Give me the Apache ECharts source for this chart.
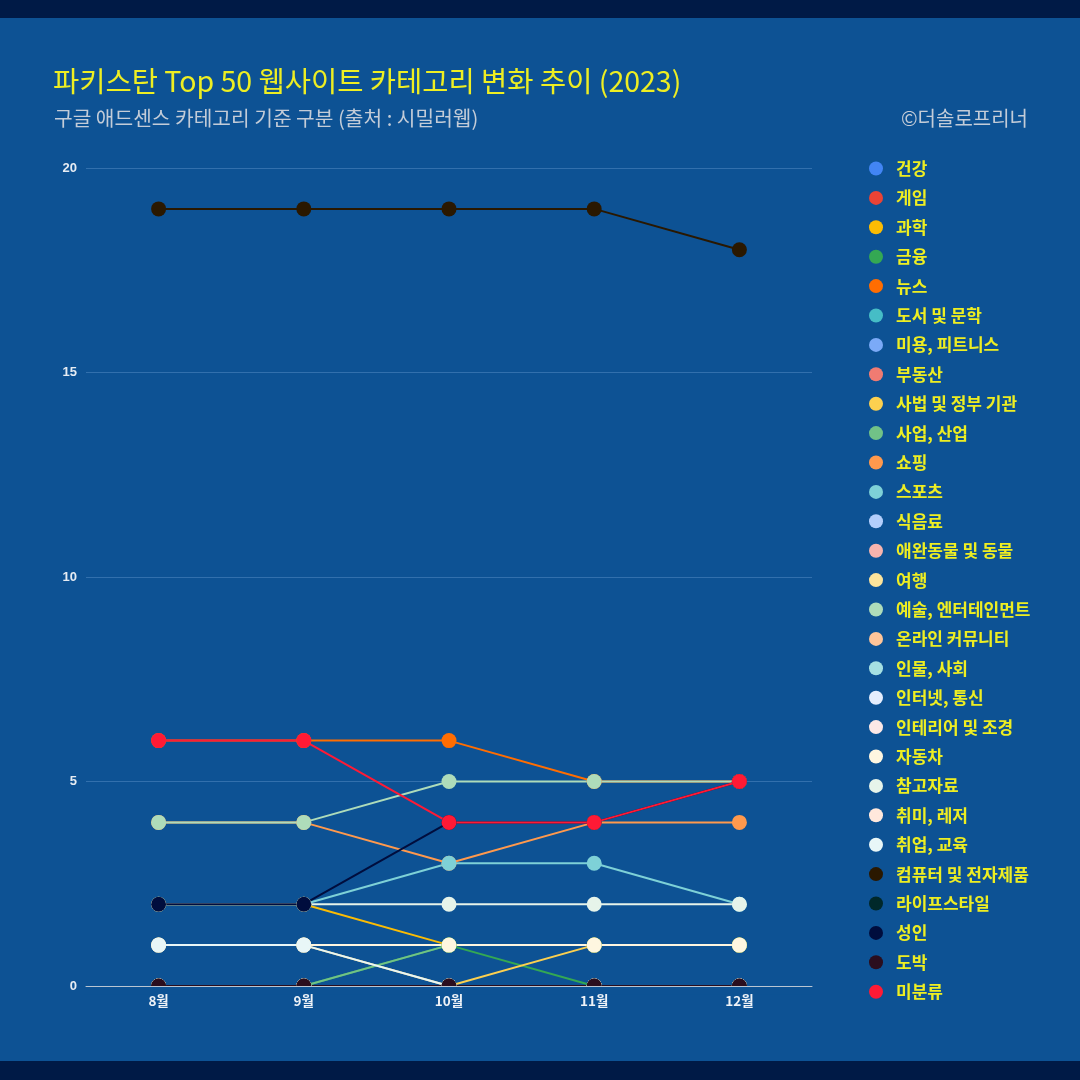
<!DOCTYPE html>
<html>
<head>
<meta charset="utf-8">
<script src="https://cdn.jsdelivr.net/npm/echarts@6/dist/echarts.min.js"></script>
<style>
html,body{margin:0;padding:0;background:#001a46;}
#wrap{position:absolute;left:0;top:0;width:1080px;height:1080px;background:#001a46;}
#chart{position:absolute;left:0;top:18px;width:1080px;height:1043px;background:#0d5294;}
</style>
</head>
<body>
<div id="wrap"><div id="chart"></div></div>
<script>
// ---- data ----
const months = ['8월', '9월', '10월', '11월', '12월'];
const categoryNames = ['건강','게임','과학','금융','뉴스','도서 및 문학','미용, 피트니스','부동산','사법 및 정부 기관','사업, 산업','쇼핑','스포츠','식음료','애완동물 및 동물','여행','예술, 엔터테인먼트','온라인 커뮤니티','인물, 사회','인터넷, 통신','인테리어 및 조경','자동차','참고자료','취미, 레저','취업, 교육','컴퓨터 및 전자제품','라이프스타일','성인','도박','미분류'];
const vHealth      = [0, 0, 0, 0, 0];
const vGame        = [0, 0, 0, 0, 0];
const vScience     = [2, 2, 1, 1, 1];
const vFinance     = [0, 0, 1, 0, 0];
const vNews        = [6, 6, 6, 5, 5];
const vBooks       = [0, 0, 0, 0, 0];
const vBeauty      = [0, 0, 0, 0, 0];
const vRealEstate  = [0, 0, 0, 0, 0];
const vLaw         = [1, 1, 0, 1, 1];
const vBusiness    = [0, 0, 1, 1, 1];
const vShopping    = [4, 4, 3, 4, 4];
const vSports      = [2, 2, 3, 3, 2];
const vFood        = [0, 0, 0, 0, 0];
const vPets        = [0, 0, 0, 0, 0];
const vTravel      = [0, 0, 0, 0, 0];
const vArts        = [4, 4, 5, 5, 5];
const vCommunity   = [0, 0, 0, 0, 0];
const vPeople      = [0, 0, 0, 0, 0];
const vInternet    = [0, 0, 0, 0, 0];
const vHome        = [0, 0, 0, 0, 0];
const vAutos       = [1, 1, 1, 1, 1];
const vReference   = [2, 2, 2, 2, 2];
const vHobbies     = [0, 0, 0, 0, 0];
const vJobs        = [1, 1, 0, 0, 0];
const vComputers   = [19, 19, 19, 19, 18];
const vLifestyle   = [0, 0, 0, 0, 0];
const vAdult       = [2, 2, 4, 4, 5];
const vGambling    = [0, 0, 0, 0, 0];
const vUnknown     = [6, 6, 4, 4, 5];
const yTicks = [0, 5, 10, 15, 20];

const seriesValues = [vHealth, vGame, vScience, vFinance, vNews, vBooks, vBeauty, vRealEstate, vLaw, vBusiness,
  vShopping, vSports, vFood, vPets, vTravel, vArts, vCommunity, vPeople, vInternet, vHome,
  vAutos, vReference, vHobbies, vJobs, vComputers, vLifestyle, vAdult, vGambling, vUnknown];

const colors = ['#4285f4','#ea4335','#fbbc04','#34a853','#ff6d01','#46bdc6','#7baaf7','#f07b72','#fcd04f','#71c287',
  '#ff994d','#7ed1d7','#b3cefb','#f7b4ae','#fde49b','#aedcba','#ffc599','#a5e0e2','#e4edfd','#fce8e6',
  '#fef6e0','#e6f4ea','#ffe8dc','#e8f6f7','#2a1800','#00282a','#000d3d','#2b0e1e','#ff1a35'];

const KFONT = '"Noto Sans CJK KR", "Noto Sans", sans-serif';

const chart = echarts.init(document.getElementById('chart'), null, {renderer: 'canvas'});

const series = categoryNames.map((name, i) => ({
  name: name,
  type: 'line',
  data: seriesValues[i],
  color: colors[i],
  symbol: 'circle',
  symbolSize: 15,
  showSymbol: true,
  lineStyle: {width: 2, color: colors[i]},
  itemStyle: {color: colors[i]},
  emphasis: {disabled: true},
  animation: false,
  clip: false
}));

chart.setOption({
  backgroundColor: '#0d5294',
  animation: false,
  title: [
    {text: '파키스탄 Top 50 웹사이트 카테고리 변화 추이 (2023)', left: 48, top: 44,
     textStyle: {color: '#eeee22', fontSize: 28.5, fontWeight: 'normal', fontFamily: KFONT}},
    {text: '구글 애드센스 카테고리 기준 구분 (출처 : 시밀러웹)', left: 49, top: 85,
     textStyle: {color: '#c3ccd8', fontSize: 20.3, fontWeight: 'normal', fontFamily: KFONT}},
    {text: '©더솔로프리너', right: 47, top: 85,
     textStyle: {color: '#c3ccd8', fontSize: 20, fontWeight: 'normal', fontFamily: KFONT}}
  ],
  legend: {
    orient: 'vertical',
    left: 869,
    top: 142,
    icon: 'circle',
    itemWidth: 30,
    itemHeight: 14,
    itemGap: 12.4,
    padding: 0,
    selectedMode: false,
    data: categoryNames,
    textStyle: {color: '#eeee22', fontSize: 17, fontWeight: 'bold', fontFamily: KFONT, padding: [0,0,0,0]}
  },
  grid: {left: 86, right: 268, top: 150, bottom: 75, containLabel: false},
  xAxis: {
    type: 'category',
    data: months,
    boundaryGap: true,
    z: 60,
    axisLine: {show: true, lineStyle: {color: '#b9c5d2', width: 1}},
    axisTick: {show: false},
    axisLabel: {color: '#eef2f7', fontSize: 13.5, fontWeight: 'bold', fontFamily: KFONT, margin: 8},
    splitLine: {show: false}
  },
  yAxis: {
    type: 'value',
    min: yTicks[0],
    max: yTicks[yTicks.length - 1],
    interval: 5,
    axisLine: {show: false},
    axisTick: {show: false},
    axisLabel: {color: '#e6ecf3', fontSize: 13, fontWeight: 'bold', fontFamily: '"Liberation Sans", Arial, sans-serif', margin: 9},
    splitLine: {show: true, lineStyle: {color: '#3270ad', width: 1}}
  },
  series: series
});

// Mask below the x axis so markers sitting on zero look clipped by the plot area
const y0 = chart.convertToPixel({yAxisIndex: 0}, 0);
const gridRect = chart.getModel().getComponent('grid').coordinateSystem.getRect();
chart.setOption({
  graphic: [{
    type: 'rect', z: 50, silent: true,
    shape: {x: gridRect.x - 2, y: y0 + 0.5, width: gridRect.width + 4, height: 8},
    style: {fill: '#0d5294'}
  }]
});
</script>
</body>
</html>
